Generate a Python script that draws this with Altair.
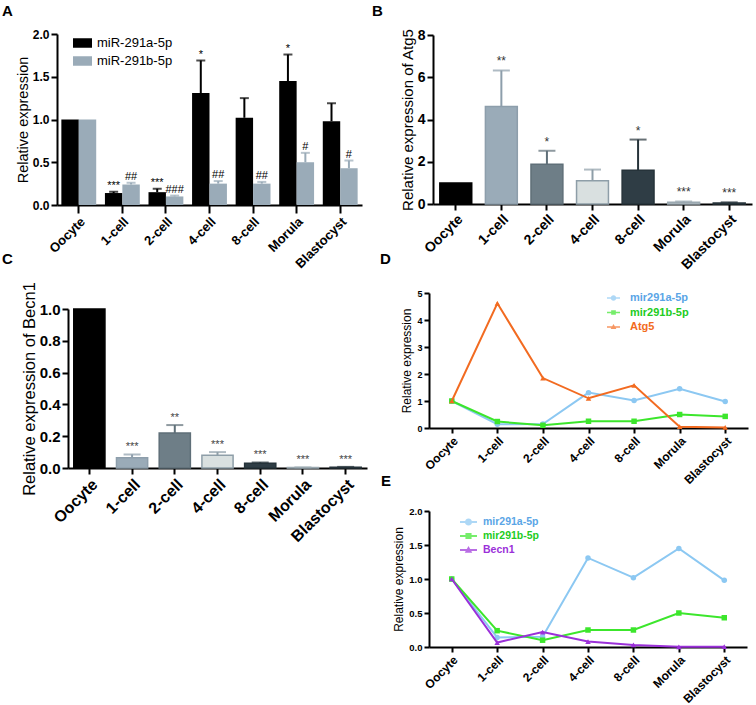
import altair as alt
import pandas as pd

FONT = "Liberation Sans"
W, H = 756, 705

stages = ["Oocyte", "1-cell", "2-cell", "4-cell", "8-cell", "Morula", "Blastocyst"]

# Panel A : miRNA expression (mean and upper error)
mir_a_mean = [1.00, 0.14, 0.15, 1.31, 1.02, 1.45, 0.98]
mir_a_upper = [1.00, 0.155, 0.19, 1.69, 1.25, 1.76, 1.19]
mir_a_sig = ["", "***", "***", "*", "", "*", ""]
mir_b_mean = [1.00, 0.24, 0.10, 0.25, 0.25, 0.50, 0.43]
mir_b_upper = [1.00, 0.26, 0.11, 0.28, 0.27, 0.61, 0.52]
mir_b_sig = ["", "##", "###", "##", "##", "#", "#"]
series_a = ["miR-291a-5p", "miR-291b-5p"]

# Panel B : Atg5
atg5_mean = [1.00, 4.62, 1.88, 1.10, 1.60, 0.08, 0.05]
atg5_upper = [1.00, 6.32, 2.52, 1.63, 3.05, 0.12, 0.08]
atg5_sig = ["", "**", "*", "", "*", "***", "***"]

# Panel C : Becn1
becn1_mean = [1.00, 0.065, 0.22, 0.08, 0.03, 0.003, 0.005]
becn1_upper = [1.00, 0.085, 0.27, 0.10, 0.035, 0.004, 0.007]
becn1_sig = ["", "***", "**", "***", "***", "***", "***"]

# Panel D / E line values
line_mir_a = [1.00, 0.14, 0.15, 1.31, 1.02, 1.45, 0.98]
line_mir_b = [1.00, 0.24, 0.10, 0.25, 0.25, 0.50, 0.43]
line_atg5 = [1.00, 4.62, 1.85, 1.10, 1.58, 0.05, 0.02]
line_becn1 = [1.00, 0.065, 0.22, 0.08, 0.03, 0.003, 0.005]

stage_fill = ["#000000", "#9aabb8", "#6e7e87", "#d9e0e0", "#2f3d45", "#c5cdd1", "#34424a"]
stage_stroke = ["#000000", "#8d9eab", "#5f6f78", "#8e9ea8", "#26333a", "#9aa8b0", "#26333a"]

C_A = "#8cc8f2"
C_B = "#3ce62c"
C_ATG = "#f26b21"
C_BEC = "#9b30d9"
L_A = "#5aa5e6"
L_B = "#22cc22"

# panel geometry (pixel ranges of the scales)
GEO = {
    "A": dict(x=[57, 362], y=[205, 34]),
    "B": dict(x=[433, 752], y=[204, 35]),
    "C": dict(x=[68, 367], y=[468, 309]),
    "D": dict(x=[429, 748], y=[428, 293]),
    "E": dict(x=[429, 747], y=[647, 511]),
}


def xax(py, fs, tick=7):
    return alt.Axis(orient="bottom", offset=py - H, title=None, labelAngle=-45,
                    labelFont=FONT, labelFontSize=fs, labelFontWeight="bold",
                    labelColor="black", domainColor="black", domainWidth=2,
                    tickColor="black", tickWidth=2, tickSize=tick, labelPadding=2,
                    grid=False, labelOverlap=False)


def yax(px, values, fmt, fs, title, tfs, tpad=2, tick=6):
    return alt.Axis(orient="left", offset=-px, values=values, format=fmt, title=title,
                    titleFont=FONT, titleFontSize=tfs, titleFontWeight="normal",
                    titleColor="black", titlePadding=tpad,
                    labelFont=FONT, labelFontSize=fs, labelFontWeight="bold",
                    labelColor="black", domainColor="black", domainWidth=2,
                    tickColor="black", tickWidth=2, tickSize=tick, labelPadding=2,
                    grid=False)


layers = []

# ---------------- Panel A ----------------
rows = []
for i, s in enumerate(stages):
    rows.append(dict(stage=s, series=series_a[0], mean=mir_a_mean[i], upper=mir_a_upper[i], sig=mir_a_sig[i]))
    rows.append(dict(stage=s, series=series_a[1], mean=mir_b_mean[i], upper=mir_b_upper[i], sig=mir_b_sig[i]))
dfA = pd.DataFrame(rows)

PI_A, PO_A = 0.2, 0.1
STEP_A = (GEO["A"]["x"][1] - GEO["A"]["x"][0]) / (len(stages) - PI_A + 2 * PO_A)
SUB_A = STEP_A * (1 - PI_A) / 2  # width of one bar of the pair


def xA(axis=None):
    return alt.X("stage:N", scale=alt.Scale(domain=stages, range=GEO["A"]["x"], paddingInner=PI_A, paddingOuter=PO_A),
                 axis=axis)


def yA(field, axis=None):
    return alt.Y(field, scale=alt.Scale(domain=[0, 2], range=GEO["A"]["y"], nice=False, zero=True), axis=axis)


xoffA = alt.XOffset("series:N", scale=alt.Scale(domain=series_a, paddingInner=0, paddingOuter=0))
colA = alt.Color("series:N", scale=alt.Scale(domain=series_a, range=["#000000", "#9aabb8"]), legend=None)

legendA = alt.Legend(orient="none", legendX=73, legendY=33.5, title=None, padding=0,
                     symbolType="M-1,-0.5H1V0.5H-1Z", symbolSize=361, symbolStrokeWidth=0,
                     symbolOffset=0, labelFont=FONT, labelFontSize=13, labelColor="black",
                     labelOffset=5, rowPadding=1)

barsA = alt.Chart(dfA).mark_bar().encode(
    x=xA(xax(205, 13, 8)),
    y=yA("mean:Q", yax(57, [0, 0.5, 1.0, 1.5, 2.0], ".1f", 12, "Relative expression", 14.5, 2, 6)),
    xOffset=xoffA,
    color=alt.Color("series:N", scale=alt.Scale(domain=series_a, range=["#000000", "#9aabb8"]), legend=legendA),
)
errA = alt.Chart(dfA).transform_filter("datum.upper > datum.mean").mark_rule(strokeWidth=2).encode(
    x=xA(), xOffset=xoffA, y=yA("mean:Q"), y2="upper:Q", color=colA)
capA = alt.Chart(dfA).transform_filter("datum.upper > datum.mean").mark_tick(thickness=2, size=9).encode(
    x=xA(), xOffset=xoffA, y=yA("upper:Q"), color=colA)
layers += [barsA, errA, capA]
for k, sname in enumerate(series_a):
    shift = (-0.5 if k == 0 else 0.5) * SUB_A
    layers.append(
        alt.Chart(dfA).transform_filter(alt.datum.series == sname).mark_text(
            baseline="bottom", dy=-1, dx=shift, fontSize=11, font=FONT, color="black"
        ).encode(x=xA(), y=yA("upper:Q"), text="sig:N")
    )


# ---------------- Panels B and C (single-series bars) ----------------
def bar_panel(key, mean, upper, sig, ymax, yvals, yfmt, ylab_fs, title, title_fs, xlab_fs, pi, po, cap, txt_fs, txt_color):
    df = pd.DataFrame(dict(stage=stages, mean=mean, upper=upper, sig=sig))
    g = GEO[key]

    def X(axis=None):
        return alt.X("stage:N", scale=alt.Scale(domain=stages, range=g["x"], paddingInner=pi, paddingOuter=po),
                     axis=axis)

    def Y(field, axis=None):
        return alt.Y(field, scale=alt.Scale(domain=[0, ymax], range=g["y"], nice=False, zero=True), axis=axis)

    fill = alt.Color("stage:N", scale=alt.Scale(domain=stages, range=stage_fill), legend=None)
    stroke = alt.Stroke("stage:N", scale=alt.Scale(domain=stages, range=stage_stroke), legend=None)
    bars = alt.Chart(df).mark_bar(strokeWidth=1.5).encode(
        x=X(xax(g["y"][0], xlab_fs, 6)),
        y=Y("mean:Q", yax(g["x"][0], yvals, yfmt, ylab_fs, title, title_fs, 2, 6)),
        color=fill, stroke=stroke)
    err = alt.Chart(df).transform_filter("datum.upper > datum.mean").mark_rule(strokeWidth=2).encode(
        x=X(), y=Y("mean:Q"), y2="upper:Q", stroke=stroke)
    caps = alt.Chart(df).transform_filter("datum.upper > datum.mean").mark_tick(thickness=2, size=cap).encode(
        x=X(), y=Y("upper:Q"), color=alt.Color("stage:N", scale=alt.Scale(domain=stages, range=stage_stroke), legend=None))
    txt = alt.Chart(df).mark_text(baseline="bottom", dy=-2, fontSize=txt_fs, font=FONT, color=txt_color).encode(
        x=X(), y=Y("upper:Q"), text="sig:N")
    return [bars, err, caps, txt]


layers += bar_panel("B", atg5_mean, atg5_upper, atg5_sig, 8, [0, 2, 4, 6, 8], "d", 14,
                    "Relative expression of Atg5", 15, 14, 0.3, 0.15, 17, 12, "#333333")
layers += bar_panel("C", becn1_mean, becn1_upper, becn1_sig, 1.0, [0, 0.2, 0.4, 0.6, 0.8, 1.0], ".1f", 15,
                    "Relative expression of Becn1", 16.5, 16, 0.27, 0.135, 17, 11, "#444444")


# ---------------- Panels D and E (lines) ----------------
def path_circle():
    return "M-1,-0.13H1V0.13H-1Z M0.42,0A0.42,0.42 0 1,1 -0.42,0A0.42,0.42 0 1,1 0.42,0Z"


def path_square():
    return "M-1,-0.13H1V0.13H-1Z M-0.36,-0.36H0.36V0.36H-0.36Z"


def path_tri():
    return "M-1,-0.13H1V0.13H-1Z M0,-0.48L0.44,0.32H-0.44Z"


def line_panel(key, series_names, values, colors, label_colors, shapes, ymax, yvals, yfmt, ylab_fs,
               title_fs, xlab_fs, leg):
    g = GEO[key]
    out = []

    def X(axis=None):
        return alt.X("stage:N", scale=alt.Scale(type="point", domain=stages, range=g["x"], padding=0.5), axis=axis)

    def Y(axis=None):
        return alt.Y("value:Q", scale=alt.Scale(domain=[0, ymax], range=g["y"], nice=False, zero=True), axis=axis)

    for k, (name, vals, col, shp) in enumerate(zip(series_names, values, colors, shapes)):
        df = pd.DataFrame(dict(stage=stages, value=vals, series=name))
        if k == 0:
            xe = X(xax(g["y"][0], xlab_fs, 5))
            ye = Y(yax(g["x"][0], yvals, yfmt, ylab_fs, "Relative expression", title_fs, 3, 5))
        else:
            xe = X()
            ye = Y()
        out.append(alt.Chart(df).mark_line(strokeWidth=2, color=col).encode(x=xe, y=ye))
        out.append(alt.Chart(df).mark_point(filled=True, opacity=1, size=30, shape=shp, color=col).encode(x=X(), y=Y()))

    expr = "datum.value == '%s' ? '%s' : datum.value == '%s' ? '%s' : '%s'" % (
        series_names[0], label_colors[0], series_names[1], label_colors[1], label_colors[2])
    legend = alt.Legend(orient="none", legendX=leg["x"], legendY=leg["y"], title=None, padding=0,
                        symbolSize=leg["size"], symbolStrokeWidth=0, symbolOffset=0,
                        labelFont=FONT, labelFontSize=leg["fs"], labelFontWeight="bold",
                        labelColor=alt.ExprRef(expr), labelOffset=leg["lo"], rowPadding=leg["rp"])
    dfl = pd.DataFrame(dict(series=series_names))
    out.append(alt.Chart(dfl).transform_filter("datum.series == 'none'").mark_point(filled=True).encode(
        color=alt.Color("series:N", scale=alt.Scale(domain=series_names, range=colors), legend=legend),
        shape=alt.Shape("series:N", scale=alt.Scale(domain=series_names,
                                                    range=[path_circle(), path_square(), path_tri()]),
                        legend=legend),
    ))
    return out


layers += line_panel("D", ["mir291a-5p", "mir291b-5p", "Atg5"], [line_mir_a, line_mir_b, line_atg5],
                     [C_A, C_B, C_ATG], [L_A, L_B, C_ATG], ["circle", "square", "triangle-up"],
                     5, [0, 1, 2, 3, 4, 5], "d", 9, 12, 12,
                     dict(x=607, y=291.5, size=169, fs=11, lo=10, rp=2.5))
layers += line_panel("E", ["mir291a-5p", "mir291b-5p", "Becn1"], [line_mir_a, line_mir_b, line_becn1],
                     [C_A, C_B, C_BEC], [L_A, L_B, C_BEC], ["circle", "square", "triangle-up"],
                     2, [0, 0.5, 1.0, 1.5, 2.0], ".1f", 9.5, 12, 12,
                     dict(x=460, y=513.5, size=289, fs=10.5, lo=6, rp=0))

# ---------------- Panel letters ----------------
panel_letters = ["A", "B", "C", "D", "E"]
letter_pos = {"A": (2, 4), "B": (372, 4), "C": (2, 252), "D": (380, 252), "E": (381, 474)}
for L in panel_letters:
    px, py = letter_pos[L]
    layers.append(alt.Chart(alt.Data(values=[{}])).mark_text(
        text=L, font=FONT, fontSize=15, fontWeight="bold", align="left", baseline="top", color="black"
    ).encode(x=alt.value(px), y=alt.value(py)))

chart = alt.layer(*layers).resolve_scale(
    x="independent", y="independent", color="independent", stroke="independent",
    shape="independent", xOffset="independent"
).resolve_axis(x="independent", y="independent").resolve_legend(
    color="independent", shape="independent", stroke="independent"
).properties(
    width=W, height=H, padding=0, autosize=alt.AutoSizeParams(type="none"),
    background="white"
).configure_view(stroke=None)

chart.save("out.html", embed_options={"renderer": "svg", "actions": False})
